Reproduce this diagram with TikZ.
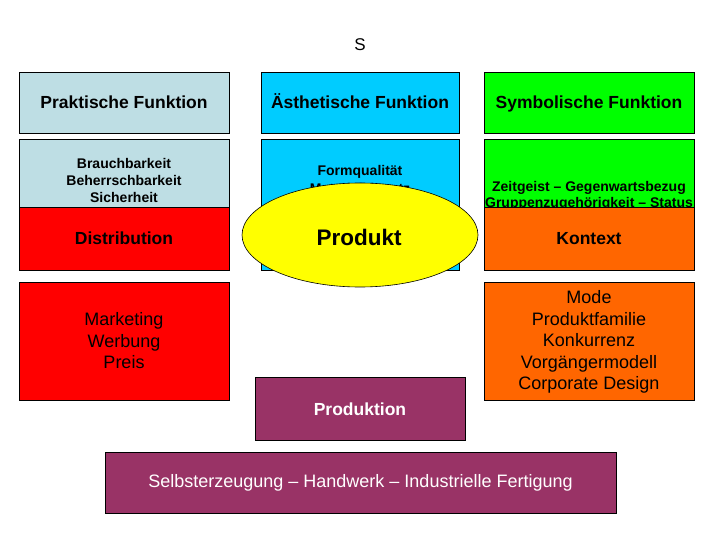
\documentclass[tikz,border=0pt]{standalone}
\usepackage{fontspec}
\setmainfont{Liberation Sans}
\usetikzlibrary{shapes.geometric}
\definecolor{lblue}{RGB}{190,222,228}
\definecolor{cyanb}{RGB}{0,204,255}
\definecolor{greenb}{RGB}{0,255,0}
\definecolor{redb}{RGB}{255,0,0}
\definecolor{orangeb}{RGB}{255,102,0}
\definecolor{purpleb}{RGB}{153,51,102}
\definecolor{yellowb}{RGB}{255,255,0}
\tikzset{
  box/.style={draw=black, line width=0.8pt, rectangle, inner sep=0pt, minimum width=210pt},
  head/.style={font=\fontsize{17.5}{20}\selectfont\bfseries, text height=12.6pt, text depth=0pt},
  small/.style={font=\fontsize{14}{17}\selectfont\bfseries, align=center},
  body/.style={font=\fontsize{18}{21.5}\selectfont, align=center},
}
\begin{document}
\begin{tikzpicture}[x=1pt, y=-1pt]
\useasboundingbox (0,0) rectangle (720,540);
% title
\node[font=\fontsize{17}{20}\selectfont] (title) at (360,45) {S};
% headers
\node[box, fill=lblue, minimum height=61pt, head] (pf) at (124,102.5) {Praktische Funktion};
\node[box, fill=cyanb, minimum width=198pt, minimum height=61pt, head] (af) at (360,102.5) {Ästhetische Funktion};
\node[box, fill=greenb, minimum height=61pt, head] (sf) at (589,102.5) {Symbolische Funktion};
% second row
\node[box, fill=lblue, minimum height=68pt] (pb) at (124,173) {};
\node[small] (pt1) at (124,163) {Brauchbarkeit};
\node[small] (pt2) at (124,180) {Beherrschbarkeit};
\node[small] (pt3) at (124,197) {Sicherheit};
\node[box, fill=cyanb, minimum width=198pt, minimum height=131pt] (ab) at (360,204.5) {};
\node[small] (at1) at (360,172) {Formqualität};
\node[small] (at2) at (360,188) {Materialeinsatz};
\node[box, fill=greenb, minimum height=68pt] (sb) at (589,173) {};
\node[small] (st1) at (589,188) {Zeitgeist – Gegenwartsbezug};
\node[small] (st2) at (589,204) {Gruppenzugehörigkeit – Status};
% Distribution / Kontext
\node[box, fill=redb, minimum height=63pt, head] (dist) at (124,238.5) {Distribution};
\node[box, fill=orangeb, minimum height=63pt, head] (kon) at (589,238.5) {Kontext};
% Produkt
\node[ellipse, draw=black, line width=0.6pt, fill=yellowb, minimum width=236pt, minimum height=104pt, inner sep=0pt] (prod) at (360,235) {};
\node[font=\fontsize{22.5}{26}\selectfont\bfseries, text height=16.2pt, text depth=0pt] (prodt) at (359,237) {Produkt};
% lower boxes
\node[box, fill=redb, minimum height=118pt] (mark) at (124,341) {};
\node[body] (markt) at (124,341) {Marketing\\Werbung\\Preis};
\node[box, fill=orangeb, minimum height=118pt] (ctx) at (589,341) {};
\node[body] (ctxt) at (589,342) {Mode\\Produktfamilie\\Konkurrenz\\Vorgängermodell\\Corporate Design};
\node[box, fill=purpleb, minimum height=63pt, head, text=white] (prodn) at (360,409) {Produktion};
\node[box, fill=purpleb, minimum width=511pt, minimum height=61pt, font=\fontsize{18}{21}\selectfont, text=white] (self) at (360.5,482.5) {Selbsterzeugung – Handwerk – Industrielle Fertigung};
\end{tikzpicture}
\end{document}
